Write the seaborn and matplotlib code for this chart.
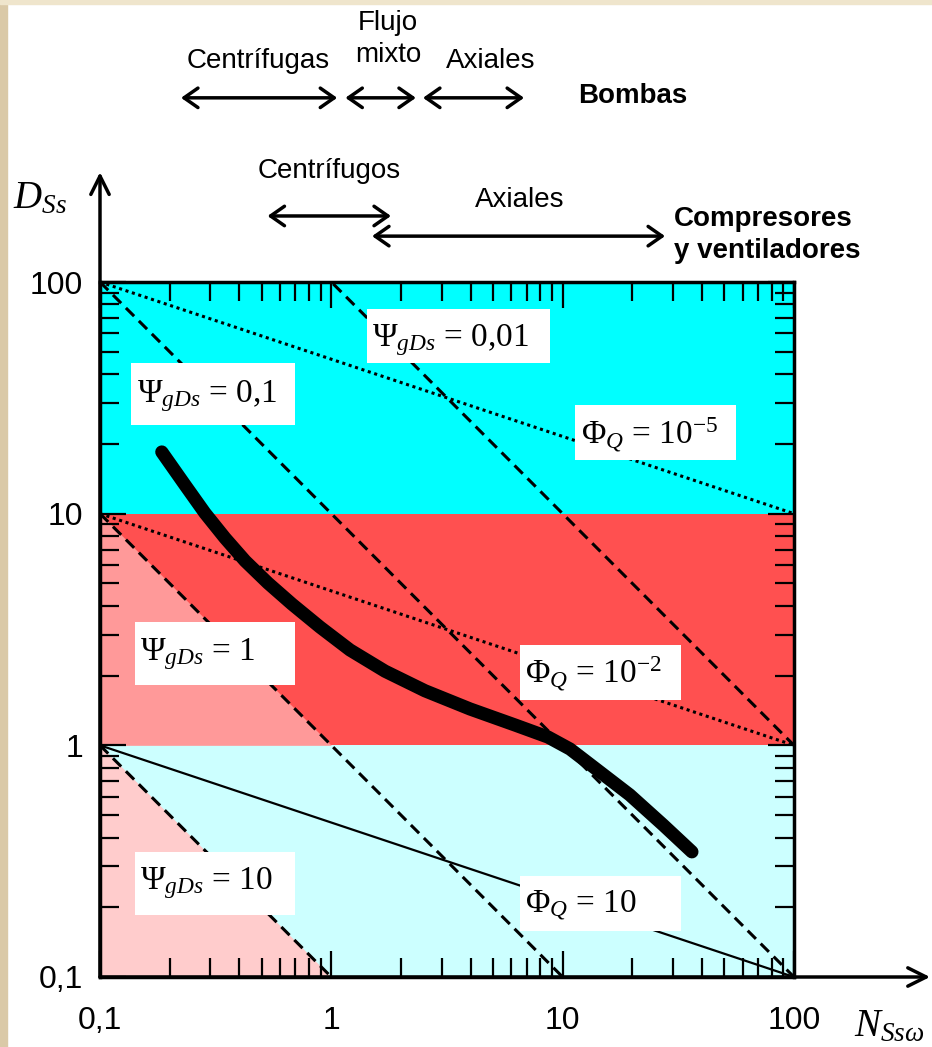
import numpy as np
import seaborn as sns
import matplotlib.pyplot as plt
import matplotlib.transforms as mtransforms
from matplotlib.patches import Rectangle
from matplotlib.ticker import FixedLocator, LogLocator, NullFormatter

# thick curve (N_Ssw, D_Ss)
curve_n = [0.185, 0.233, 0.284, 0.347, 0.424, 0.532, 0.676, 0.893, 1.204, 1.706,
           2.54, 3.98, 6.22, 8.64, 10.76, 14.5, 19.5, 27.2, 36.2]
curve_d = [18.46, 13.3, 10.07, 7.85, 6.25, 5.02, 4.07, 3.24, 2.58, 2.09,
           1.72, 1.435, 1.224, 1.086, 0.964, 0.767, 0.611, 0.453, 0.347]

# constant Psi (dashed) and Phi (dotted / solid) lines
psi_values = [0.01, 0.1, 1, 10]
psi_labels = ['0,01', '0,1', '1', '10']
phi_values = [1e-5, 1e-2, 10]
phi_labels = ['10$^{\\mathrm{-5}}$', '10$^{\\mathrm{-2}}$', '10']

tick_values = [0.1, 1, 10, 100]
tick_labels = ['0,1', '1', '10', '100']

band_edges = [0.1, 1, 10, 100]
band_colors = ['#ccffff', '#ff5050', '#00ffff']
tri_psi = [10, 1]                   # pink triangles left of these psi lines
tri_colors = ['#ffcccc', '#ff9999']

pump_ranges = [(0.224, 1.06), (1.15, 2.32), (2.49, 6.81)]
comp_ranges = [(0.53, 1.81), (1.50, 27.7)]

sns.set_style('white')
plt.rcParams['font.family'] = ['Liberation Sans', 'DejaVu Sans']
plt.rcParams['text.color'] = 'black'
plt.rcParams['xtick.color'] = 'black'
plt.rcParams['ytick.color'] = 'black'
plt.rcParams['mathtext.fontset'] = 'custom'
plt.rcParams['mathtext.rm'] = 'Liberation Serif'
plt.rcParams['mathtext.it'] = 'Liberation Serif:italic'
plt.rcParams['mathtext.bf'] = 'Liberation Serif:bold'

fig = plt.figure(figsize=(9.32, 10.47), dpi=100)
ax = fig.add_axes([100 / 932, 70 / 1047, 694 / 932, 695 / 1047])
ax.set_xscale('log')
ax.set_yscale('log')
ax.set_xlim(0.1, 100)
ax.set_ylim(0.1, 100)

# slide border
fig.patches.append(Rectangle((0, 0), 7 / 932, 1, transform=fig.transFigure,
                             color='#dac9a7', zorder=0))
fig.patches.append(Rectangle((0, 1 - 4 / 1047), 1, 4 / 1047, transform=fig.transFigure,
                             color='#efe5cc', zorder=0))

# background bands
for lo, hi, c in zip(band_edges[:-1], band_edges[1:], band_colors):
    ax.axhspan(lo, hi, color=c, lw=0, zorder=0)
for psi, c, lo, hi in zip(tri_psi, tri_colors, band_edges[:2], band_edges[1:3]):
    dd = np.array([lo, hi])
    ax.fill_betweenx(dd, 0.1, 1 / (psi * dd), color=c, lw=0, zorder=0.5)

n_line = np.array([0.1, 100])
for psi in psi_values:
    sns.lineplot(x=n_line, y=1 / (psi * n_line), ax=ax, color='black', lw=2.2,
                 linestyle=(0, (3.8, 2.2)), zorder=2)
for phi in phi_values:
    ls = (0, (1, 1.2)) if phi < 1 else '-'
    lw = 2.2 if phi < 1 else 1.6
    sns.lineplot(x=n_line, y=(1 / (phi * n_line)) ** (1 / 3), ax=ax, color='black',
                 lw=lw, linestyle=ls, zorder=2)

sns.lineplot(x=curve_n, y=curve_d, sort=False, ax=ax, color='black', lw=9.5,
             solid_capstyle='round', solid_joinstyle='round', zorder=5)

# label boxes (axes fraction)
psi_boxes = [(0.385, 0.883, 0.264, 0.078), (0.045, 0.794, 0.236, 0.089),
             (0.050, 0.420, 0.231, 0.091), (0.050, 0.089, 0.231, 0.091)]
psi_text_xy = [(0.392, 0.908), (0.053, 0.827), (0.058, 0.456), (0.058, 0.127)]
phi_boxes = [(0.684, 0.744, 0.232, 0.079), (0.605, 0.399, 0.232, 0.079),
             (0.605, 0.066, 0.232, 0.079)]
phi_text_xy = [(0.693, 0.768), (0.612, 0.423), (0.612, 0.092)]

for box, xy, lab in zip(psi_boxes, psi_text_xy, psi_labels):
    ax.add_patch(Rectangle(box[:2], box[2], box[3], transform=ax.transAxes,
                           fc='white', ec='none', zorder=3))
    ax.text(xy[0], xy[1], r'$\Psi_{gDs}$ = ' + lab, transform=ax.transAxes,
            fontsize=24, family='Liberation Serif', va='baseline', zorder=4)
for box, xy, lab in zip(phi_boxes, phi_text_xy, phi_labels):
    ax.add_patch(Rectangle(box[:2], box[2], box[3], transform=ax.transAxes,
                           fc='white', ec='none', zorder=3))
    ax.text(xy[0], xy[1], r'$\Phi_{Q}$ = ' + lab, transform=ax.transAxes,
            fontsize=24, family='Liberation Serif', va='baseline', zorder=4)

# ticks
for axis in (ax.xaxis, ax.yaxis):
    axis.set_major_locator(FixedLocator(tick_values))
    axis.set_minor_locator(LogLocator(base=10, subs=np.arange(2, 10)))
    axis.set_minor_formatter(NullFormatter())
ax.set_xticklabels(tick_labels)
ax.set_yticklabels(tick_labels)
ax.tick_params(which='both', direction='in', top=True, right=True, bottom=True,
               left=True, width=1.6, color='black', labelsize=23, labelcolor='black')
ax.tick_params(which='major', length=18.5)
ax.tick_params(which='minor', length=13.5)
ax.tick_params(axis='x', pad=21)
ax.tick_params(axis='y', pad=12)
for sp in ax.spines.values():
    sp.set_linewidth(2.5)
    sp.set_color('black')

# extended axes with arrows
head = dict(arrowstyle='->,head_length=0.6,head_width=0.3', lw=2.5, color='black',
            shrinkA=0, shrinkB=0, mutation_scale=22)
ax.annotate('', xy=(0, 1.158), xytext=(0, 0), xycoords='axes fraction', arrowprops=head)
ax.annotate('', xy=(1.196, 0), xytext=(0, 0), xycoords='axes fraction', arrowprops=head)
ax.text(-0.125, 1.106, r'$D_{Ss}$', transform=ax.transAxes, fontsize=28,
        va='baseline', ha='left')
ax.text(1.086, -0.086, r'$N_{Ss\omega}$', transform=ax.transAxes, fontsize=28,
        va='baseline', ha='left')

# machine type ranges above the plot
trans = mtransforms.blended_transform_factory(ax.transData, ax.transAxes)
arrow_kw = dict(arrowstyle='<->,head_length=0.5,head_width=0.35', lw=2.5,
                color='black', shrinkA=0, shrinkB=0, mutation_scale=20)
for lo, hi in pump_ranges:
    ax.annotate('', xy=(hi, 1.265), xytext=(lo, 1.265), xycoords=trans,
                textcoords=trans, arrowprops=arrow_kw, annotation_clip=False)
for (lo, hi), yy in zip(comp_ranges, [1.095, 1.066]):
    ax.annotate('', xy=(hi, yy), xytext=(lo, yy), xycoords=trans,
                textcoords=trans, arrowprops=arrow_kw, annotation_clip=False)

txt = dict(transform=trans, fontsize=20, va='baseline')
ax.text(0.482, 1.308, 'Centrífugas', ha='center', **txt)
ax.text(1.76, 1.363, 'Flujo', ha='center', **txt)
ax.text(1.76, 1.317, 'mixto', ha='center', **txt)
ax.text(4.90, 1.308, 'Axiales', ha='center', **txt)
ax.text(11.65, 1.258, 'Bombas', ha='left', fontweight='bold', **txt)
ax.text(0.977, 1.150, 'Centrífugos', ha='center', **txt)
ax.text(6.54, 1.108, 'Axiales', ha='center', **txt)
ax.text(30.3, 1.081, 'Compresores', ha='left', fontweight='bold', **txt)
ax.text(30.3, 1.035, 'y ventiladores', ha='left', fontweight='bold', **txt)

fig.savefig('out.png', dpi=100)
